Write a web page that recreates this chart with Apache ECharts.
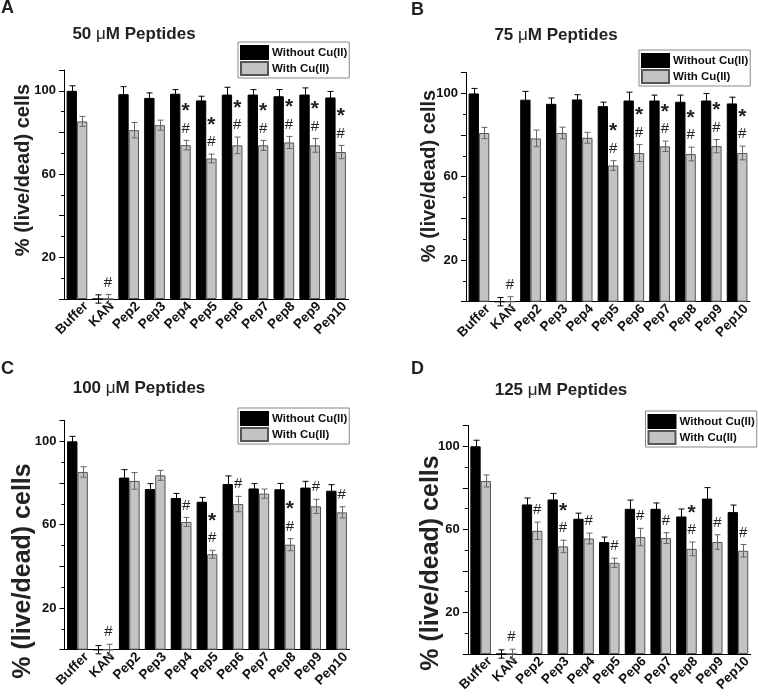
<!DOCTYPE html>
<html><head><meta charset="utf-8">
<script src="https://cdn.jsdelivr.net/npm/echarts@6/dist/echarts.min.js"></script>
<style>html,body{margin:0;padding:0;background:#fff}#c{width:758px;height:696px}</style>
</head><body><div id="c"></div>
<script>
const categories = ['Buffer','KAN','Pep2','Pep3','Pep4','Pep5','Pep6','Pep7','Pep8','Pep9','Pep10'];
const seriesNames = ['Without Cu(II)','With Cu(II)'];
const yTickLabels = [20, 60, 100];

const A_without    = [100, 0, 98.4, 96.6, 98.6, 95.4, 98.2, 98.2, 97.4, 98.2, 96.8];
const A_withoutErr = [2.4, 2, 3.6, 2.4, 2, 2, 3.5, 2.4, 3.2, 3.2, 2.9];
const A_with       = [85.3, 0, 81.1, 83.5, 73.9, 67.5, 73.8, 73.8, 75.2, 73.8, 70.6];
const A_withErr    = [2.4, 2.2, 3.7, 2.4, 2.3, 2.1, 4, 2.4, 2.9, 3.3, 3.2];
const A_marks      = ['', '#', '', '', '*#', '*#', '*#', '*#', '*#', '*#', '*#'];

const B_without    = [100, 0, 97, 95, 97.1, 93.9, 96.6, 96.6, 96, 96.6, 95.2];
const B_withoutErr = [2.4, 2, 4, 2.8, 2.3, 1.9, 4, 2.6, 3.2, 3.4, 3];
const B_with       = [81, 0, 78.4, 81, 78.7, 65.4, 71.4, 74.6, 70.9, 74.7, 71.4];
const B_withErr    = [2.7, 2.4, 4, 2.8, 2.6, 2.3, 4.1, 2.5, 3.3, 3.2, 3.3];
const B_marks      = ['', '#', '', '', '', '*#', '*#', '*#', '*#', '*#', '*#'];

const C_without    = [100, 0, 82.6, 77.1, 72.8, 71, 79.5, 77.4, 77, 77.8, 76.3];
const C_withoutErr = [2.4, 2, 3.8, 2.6, 2.2, 2.1, 3.9, 2.3, 2.8, 3, 2.9];
const C_with       = [85.3, 0, 81, 83.7, 61.3, 45.8, 69.9, 74.9, 50.4, 68.8, 65.9];
const C_withErr    = [2.5, 2.6, 4, 2.4, 2.2, 1.9, 3.7, 2.2, 2.9, 3.4, 2.7];
const C_marks      = ['', '#', '', '', '#', '*#', '#', '', '*#', '#', '#'];

const D_without    = [100, 0, 72, 74.4, 65.1, 53.9, 69.9, 69.9, 66.2, 74.8, 68.3];
const D_withoutErr = [2.9, 2, 3.1, 2.9, 2.7, 2.4, 4.2, 2.8, 3.6, 5.3, 3.4];
const D_with       = [83.3, 0, 59.3, 51.8, 55.6, 43.9, 56.3, 55.8, 50.6, 53.9, 49.7];
const D_withErr    = [2.9, 2.3, 4.2, 3, 2.6, 2.2, 4.2, 2.6, 3.3, 3.5, 3];
const D_marks      = ['', '#', '#', '*#', '#', '#', '#', '#', '*#', '#', '#'];

const panelData = [
  {letter:'A', conc:'50',  w:A_without, we:A_withoutErr, c:A_with, ce:A_withErr, m:A_marks},
  {letter:'B', conc:'75',  w:B_without, we:B_withoutErr, c:B_with, ce:B_withErr, m:B_marks},
  {letter:'C', conc:'100', w:C_without, we:C_withoutErr, c:C_with, ce:C_withErr, m:C_marks},
  {letter:'D', conc:'125', w:D_without, we:D_withoutErr, c:D_with, ce:D_withErr, m:D_marks}
];
// layout (pixels)
const layout = [
  {grid:{left:64, top:70, width:284.5, height:229}, legend:{left:238, top:42}, letter:[1,8], title:[134,34], yname:[23,170], ynameSize:20},
  {grid:{left:466, top:72.6, width:284, height:229.1}, legend:{left:639, top:50}, letter:[411,10], title:[556,35], yname:[429,176], ynameSize:20},
  {grid:{left:64.5, top:420.5, width:285, height:229.2}, legend:{left:238, top:408}, letter:[1,369], title:[139,388], yname:[23,571], ynameSize:25},
  {grid:{left:467.8, top:425.5, width:283, height:228.5}, legend:{left:645.5, top:411}, letter:[411,369], title:[561,390], yname:[431,563], ynameSize:25}
];

const FONT = '"Liberation Sans", Arial, sans-serif';

function errRender(side, color) {
  return function (params, api) {
    const idx = api.value(0), v = api.value(1), e = api.value(2);
    const c = api.coord([idx, v]);
    const top = api.coord([idx, v + e])[1];
    const bot = api.coord([idx, v - e])[1];
    const band = api.size([1, 0])[0];
    const bw = band * 0.8 / 2;
    const x = Math.round(c[0] + side * bw / 2) + 0.5;
    const cap = 3;
    const st = {stroke: color, lineWidth: 1};
    return {type: 'group', children: [
      {type: 'line', shape: {x1: x, y1: top, x2: x, y2: bot}, style: st},
      {type: 'line', shape: {x1: x - cap, y1: top, x2: x + cap, y2: top}, style: st},
      {type: 'line', shape: {x1: x - cap, y1: bot, x2: x + cap, y2: bot}, style: st}
    ]};
  };
}
function markRender(marks) {
  return function (params, api) {
    const idx = api.value(0), top = api.value(1);
    const mk = marks[params.dataIndex];
    if (!mk) return null;
    const c = api.coord([idx, top]);
    const band = api.size([1, 0])[0];
    const bw = band * 0.8 / 2;
    const x = c[0] + bw / 2;
    const yh = c[1] - 12;
    const kids = [];
    if (mk.indexOf('#') >= 0) kids.push({type: 'text', x: x, y: yh, style: {text: '#', fontSize: 15, fontFamily: FONT, fill: '#222', textAlign: 'center', textVerticalAlign: 'middle'}});
    if (mk.indexOf('*') >= 0) kids.push({type: 'text', x: x, y: yh - 17, style: {text: '*', fontSize: 21, fontWeight: 'bold', fontFamily: FONT, fill: '#222', textAlign: 'center', textVerticalAlign: 'middle'}});
    return {type: 'group', children: kids};
  };
}

const grid = [], xAxis = [], yAxis = [], series = [], legend = [], graphic = [];
panelData.forEach((p, i) => {
  const L = layout[i];
  grid.push(L.grid);
  xAxis.push({
    type: 'category', gridIndex: i, data: categories,
    axisLine: {lineStyle: {color: '#000', width: 1}},
    axisTick: {alignWithLabel: true, length: 4, lineStyle: {color: '#000'}},
    axisLabel: {rotate: 45, interval: 0, fontSize: 13.5, fontWeight: 'bold', fontFamily: FONT, color: '#111',
      verticalAlign: 'top', padding: [6, 0, 0, 0], margin: -4},
    splitLine: {show: false}
  });
  yAxis.push({
    type: 'value', gridIndex: i, position: 'left', min: 0, max: 110, interval: 20,
    axisLine: {show: true, lineStyle: {color: '#000', width: 1}},
    axisTick: {show: true, length: 5, lineStyle: {color: '#000'}},
    axisLabel: {fontSize: 13, fontWeight: 'bold', fontFamily: FONT, color: '#111', margin: 8,
      formatter: v => yTickLabels.indexOf(v) >= 0 ? String(v) : ''},
    splitLine: {show: false}
  });
  yAxis.push({
    type: 'value', gridIndex: i, position: 'left', offset: 0, min: 0, max: 110, interval: 10,
    axisLine: {show: false}, axisLabel: {show: false},
    axisTick: {show: true, length: 3, lineStyle: {color: '#000'}},
    splitLine: {show: false}
  });
  series.push({
    name: seriesNames[0], type: 'bar', xAxisIndex: i, yAxisIndex: 2 * i, data: p.w,
    barGap: '0%', barCategoryGap: '20%',
    itemStyle: {color: '#000', borderColor: '#000', borderWidth: 1}
  });
  series.push({
    name: seriesNames[1], type: 'bar', xAxisIndex: i, yAxisIndex: 2 * i, data: p.c,
    barGap: '0%', barCategoryGap: '20%',
    itemStyle: {color: '#c3c3c3', borderColor: '#555', borderWidth: 1}
  });
  series.push({
    type: 'custom', name: 'errW' + i, xAxisIndex: i, yAxisIndex: 2 * i, z: 5, silent: true,
    data: categories.map((c, k) => [k, p.w[k], p.we[k]]), renderItem: errRender(-1, '#000')
  });
  series.push({
    type: 'custom', name: 'errC' + i, xAxisIndex: i, yAxisIndex: 2 * i, z: 5, silent: true,
    data: categories.map((c, k) => [k, p.c[k], p.ce[k]]), renderItem: errRender(1, '#666')
  });
  series.push({
    type: 'custom', name: 'marks' + i, xAxisIndex: i, yAxisIndex: 2 * i, z: 6, silent: true,
    data: categories.map((c, k) => [k, p.c[k] + p.ce[k]]), renderItem: markRender(p.m)
  });
  legend.push({
    data: seriesNames, orient: 'vertical', left: L.legend.left, top: L.legend.top,
    itemWidth: 27, itemHeight: 13, itemGap: 1, icon: 'rect',
    borderColor: '#888', borderWidth: 1, borderRadius: 0, padding: [3, 2, 2, 2],
    textStyle: {fontSize: 11.5, fontWeight: 'bold', fontFamily: FONT, color: '#111', padding: [0, 0, 0, -1]},
    selectedMode: false
  });
  graphic.push({type: 'text', x: L.letter[0], y: L.letter[1],
    style: {text: p.letter, fontSize: 18, fontWeight: 'bold', fontFamily: FONT, fill: '#222', textVerticalAlign: 'middle'}});
  graphic.push({type: 'text', x: L.title[0], y: L.title[1],
    style: {text: p.conc + ' {m|μ}M Peptides', fontSize: 17, fontWeight: 'bold', fontFamily: FONT, fill: '#222',
      textAlign: 'center', textVerticalAlign: 'middle',
      rich: {m: {fontSize: 17, fontWeight: 'normal', fontFamily: FONT, fill: '#222'}}}});
  graphic.push({type: 'text', x: L.yname[0], y: L.yname[1], rotation: Math.PI / 2,
    style: {text: '% (live/dead) cells', fontSize: L.ynameSize, fontWeight: 'bold', fontFamily: FONT, fill: '#222',
      textAlign: 'center', textVerticalAlign: 'middle'}});
});

const chart = echarts.init(document.getElementById('c'), null, {renderer: 'canvas'});
chart.setOption({
  animation: false, backgroundColor: '#fff',
  grid, xAxis, yAxis, series, legend, graphic
});
</script></body></html>
